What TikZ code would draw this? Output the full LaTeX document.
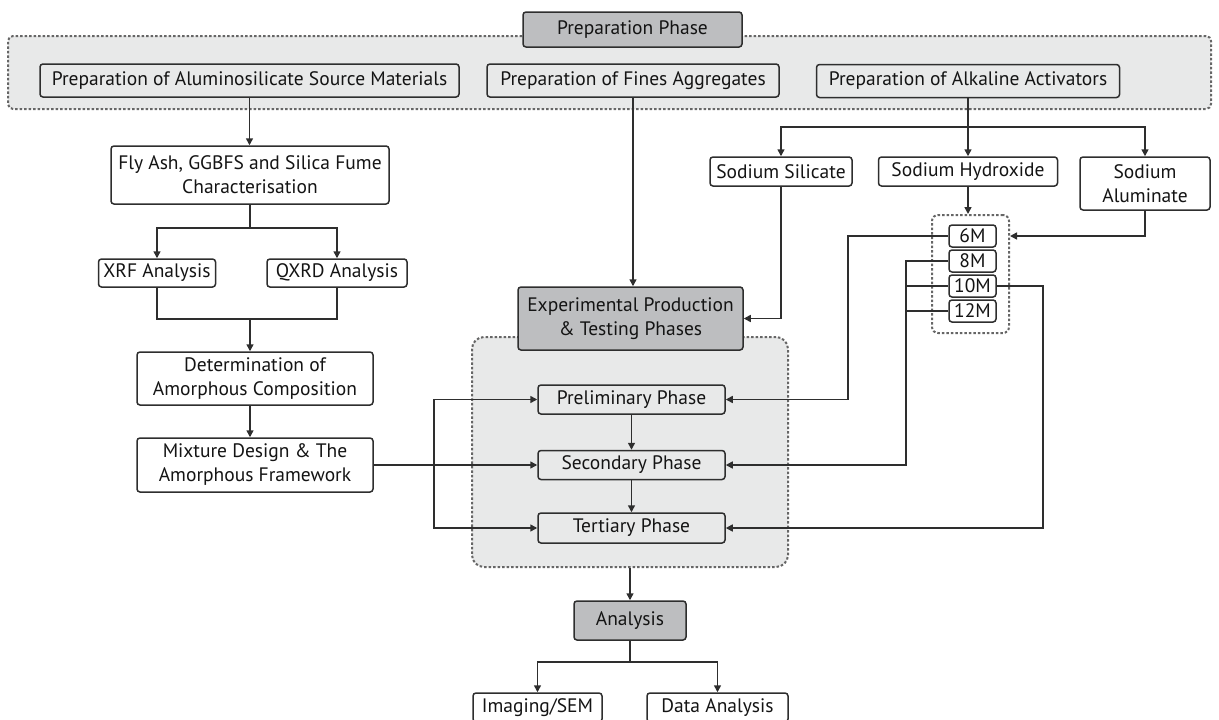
\documentclass[tikz,border=0pt]{standalone}
\usepackage{fontspec}
\setmainfont{PT Sans}
\usetikzlibrary{arrows.meta,calc}
\definecolor{linec}{HTML}{2E2E2E}
\definecolor{darkfill}{HTML}{BDBEC0}
\definecolor{lightfill}{HTML}{E8E9E9}
\definecolor{dotc}{HTML}{666666}
\begin{document}
\begin{tikzpicture}[x=1pt,y=-1pt,
  every node/.style={font=\fontsize{19.5}{24}\selectfont, text=black!92},
  box/.style={draw=linec, line width=1.5pt, rounded corners=3pt, fill=white, inner sep=0pt, align=center},
  gbox/.style={box, fill=darkfill},
  lbox/.style={box, fill=lightfill},
  mbox/.style={box, rounded corners=3pt},
  conn/.style={draw=linec, line width=1.5pt},
  arr/.style={conn, -{Triangle[length=7pt,width=7pt]}},
  dotreg/.style={draw=dotc, line width=2pt, dash pattern=on 2.5pt off 2pt, inner sep=0pt},
]
\useasboundingbox (0,0) rectangle (1219,720);
% Preparation region
\node[dotreg, fill=lightfill, rounded corners=5pt, minimum width=1203pt, minimum height=73pt] (prepreg) at (609.5,72.5) {};
\node[gbox, minimum width=219pt, minimum height=35pt] (prep) at (632.5,29.5) {Preparation Phase};
\node[lbox, minimum width=419pt, minimum height=33pt] (alu) at (249.5,80.5) {Preparation of Aluminosilicate Source Materials};
\node[lbox, minimum width=292pt, minimum height=33pt] (fines) at (633,80.5) {Preparation of Fines Aggregates};
\node[lbox, minimum width=303pt, minimum height=33pt] (alk) at (968,81) {Preparation of Alkaline Activators};
% left column
\node[box, minimum width=278pt, minimum height=58pt] (fly) at (250,175) {Fly Ash, GGBFS and Silica Fume\\Characterisation};
\node[box, minimum width=117pt, minimum height=28pt] (xrf) at (157,273) {XRF Analysis};
\node[box, minimum width=140pt, minimum height=28pt] (qxrd) at (337,273) {QXRD Analysis};
\node[box, minimum width=236pt, minimum height=53pt] (det) at (255,378.5) {Determination of\\Amorphous Composition};
\node[box, minimum width=236pt, minimum height=54pt] (mix) at (255,465) {Mixture Design \& The\\Amorphous Framework};
% right column
\node[box, minimum width=142pt, minimum height=29pt] (sil) at (781,171.5) {Sodium Silicate};
\node[box, minimum width=179pt, minimum height=29pt] (hyd) at (968,171.5) {Sodium Hydroxide};
\node[box, minimum width=130pt, minimum height=53pt] (alm) at (1145,183.5) {Sodium\\Aluminate};
\node[dotreg, rounded corners=6pt, minimum width=77pt, minimum height=118pt] (mol) at (970.5,274) {};
\node[mbox, minimum width=47pt, minimum height=22pt] (m6) at (972.5,236) {6M};
\node[mbox, minimum width=47pt, minimum height=22pt] (m8) at (972.5,261) {8M};
\node[mbox, minimum width=47pt, minimum height=22pt] (m10) at (972.5,286) {10M};
\node[mbox, minimum width=47pt, minimum height=22pt] (m12) at (972.5,311) {12M};
% experimental region
\node[dotreg, fill=lightfill, rounded corners=12pt, minimum width=316pt, minimum height=230pt] (reg) at (630,452) {};
\node[gbox, minimum width=225pt, minimum height=63pt] (exp) at (630.5,318.5) {Experimental Production\\\& Testing Phases};
\node[lbox, minimum width=187pt, minimum height=29pt] (pre) at (631.5,399.5) {Preliminary Phase};
\node[lbox, minimum width=187pt, minimum height=29pt] (sec) at (631.5,465) {Secondary Phase};
\node[lbox, minimum width=187pt, minimum height=30pt] (ter) at (631.5,528) {Tertiary Phase};
% analysis
\node[gbox, minimum width=112pt, minimum height=39pt] (ana) at (630,620.5) {Analysis};
\node[box, minimum width=129pt, minimum height=29pt] (img) at (537.5,707.5) {Imaging/SEM};
\node[box, minimum width=141pt, minimum height=29pt] (dat) at (717.5,707.5) {Data Analysis};
% coordinates
\coordinate (j1) at (250,319);
\coordinate (lp) at (434,465);
\coordinate (ab) at (968,127);
\coordinate (c6) at (848,236);
\coordinate (c8) at (906,261);
\coordinate (c10) at (1043,286);
% connectors left
\draw[arr] (alu.south) -- (alu.south |- fly.north);
\draw[arr] (fly.south) -- ++(0,23) -| (xrf.north);
\draw[arr] (fly.south) -- ++(0,23) -| (qxrd.north);
\draw[conn] (xrf.south) |- (j1) -| (qxrd.south);
\draw[arr] (j1) -- (j1 |- det.north);
\draw[arr] (j1 |- det.south) -- (j1 |- mix.north);
\draw[arr] (mix.east) -- (sec.west);
\draw[arr] (lp) |- (pre.west);
\draw[arr] (lp) |- (ter.west);
% middle
\draw[arr] (fines.south) -- (fines.south |- exp.north);
\draw[arr] (pre.south) -- (sec.north);
\draw[arr] (sec.south) -- (ter.north);
\draw[arr] (reg.south) -- (ana.north);
\draw[arr] (ana.south) -- ++(0,21) -| (img.north);
\draw[arr] (ana.south) -- ++(0,21) -| (dat.north);
% right
\draw[conn] (alk.south) -- (ab);
\draw[arr] (ab) -| (sil.north);
\draw[arr] (ab) -- (hyd.north);
\draw[arr] (ab) -| (alm.north);
\draw[arr] (sil.south) |- (exp.east);
\draw[arr] (hyd.south) -- (hyd.south |- mol.north);
\draw[arr] (alm.south) |- (m6 -| mol.east);
\draw[arr] (m6.west) -- (c6) |- (pre.east);
\draw[arr] (m8.west) -- (c8) |- (sec.east);
\draw[conn] (m10.west) -- (m10.west -| c8);
\draw[conn] (m12.west) -- (m12.west -| c8);
\draw[arr] (m10.east) -- (c10) |- (ter.east);
\end{tikzpicture}
\end{document}
